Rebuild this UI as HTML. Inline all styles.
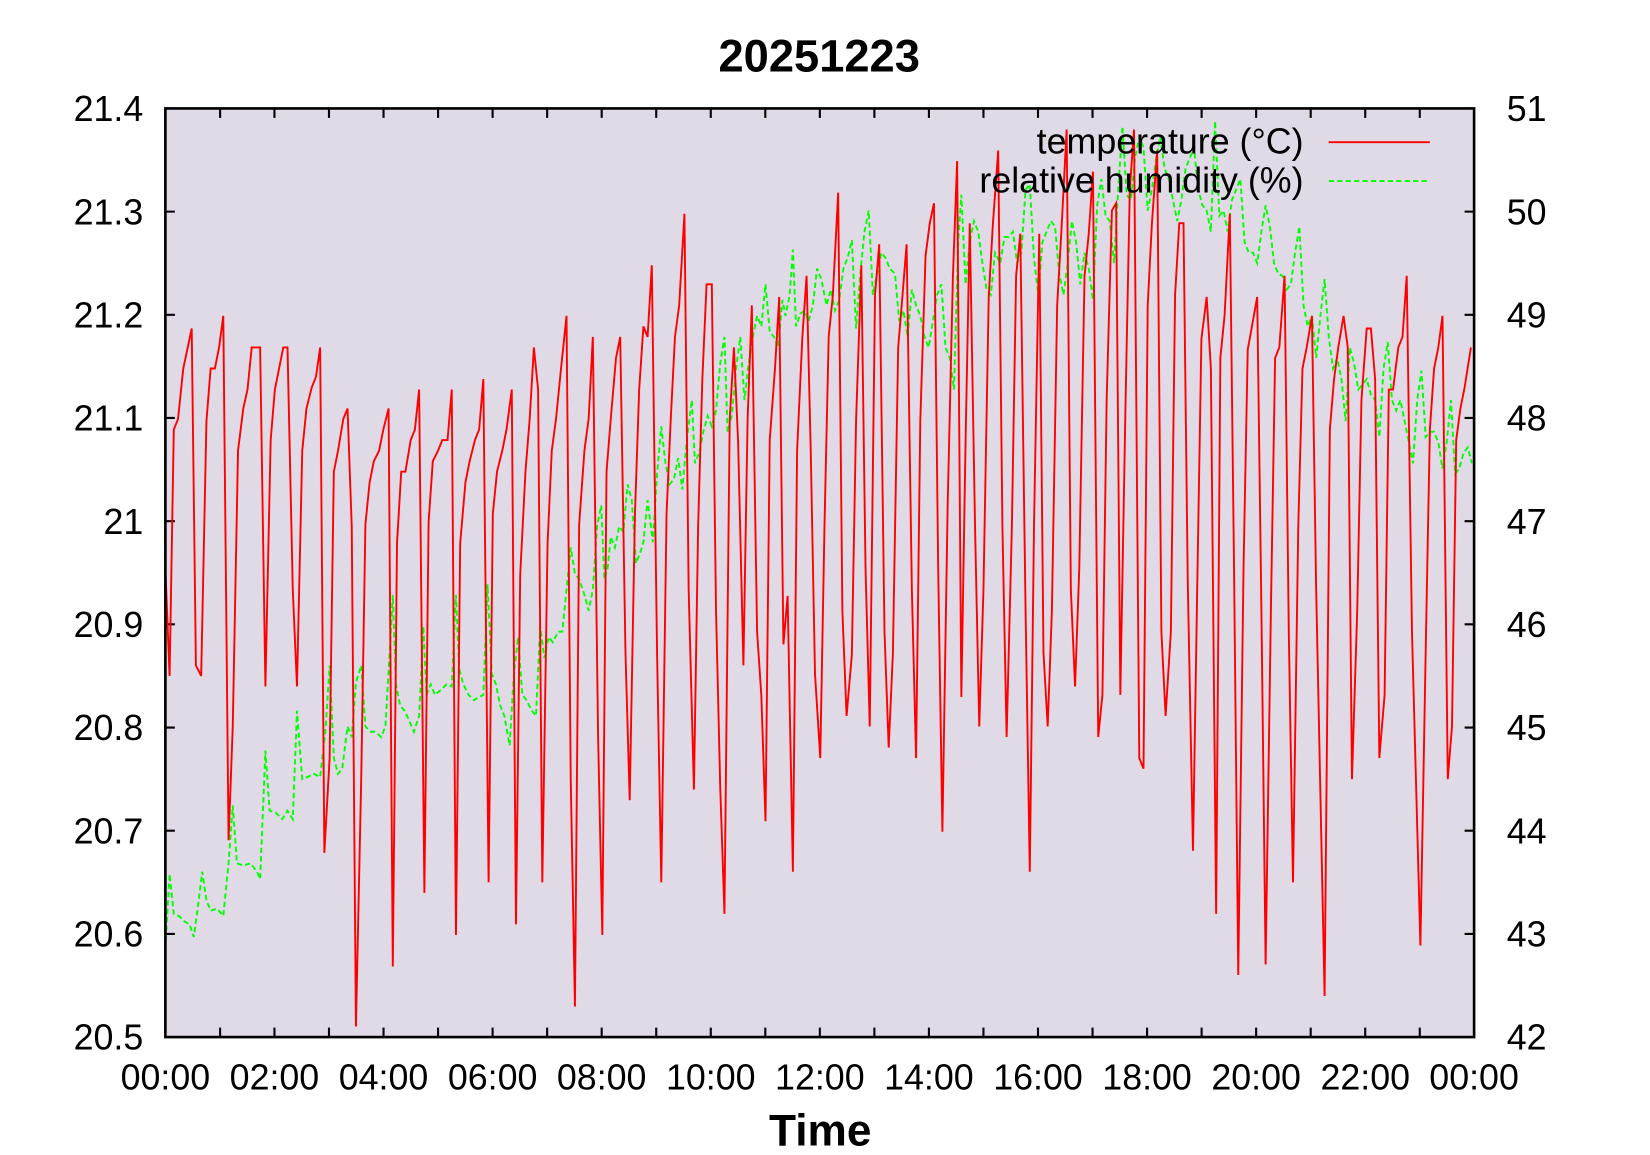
<!DOCTYPE html>
<html><head><meta charset="utf-8"><style>html,body{margin:0;padding:0;background:#fff}svg{display:block}</style></head>
<body>
<svg width="1650" height="1155" viewBox="0 0 1567 1097" xmlns="http://www.w3.org/2000/svg" font-family="Liberation Sans, sans-serif">
<rect x="0" y="0" width="1567" height="1097" fill="#fff"/>
<rect x="157" y="103" width="1243" height="882" fill="#e0d9e6"/>
<g stroke="#000" stroke-width="2">
<path d="M157,103h9M157,201h9M157,299h9M157,397h9M157,495h9M157,593h9M157,691h9M157,789h9M157,887h9M1400,103h-9M1400,201h-9M1400,299h-9M1400,397h-9M1400,495h-9M1400,593h-9M1400,691h-9M1400,789h-9M1400,887h-9"/>
<path d="M209,985v-9M260.6,985v-9M312.4,985v-9M364.2,985v-9M416,985v-9M467.8,985v-9M519.6,985v-9M571.4,985v-9M623.2,985v-9M675,985v-9M726.8,985v-9M778.6,985v-9M830.4,985v-9M882.2,985v-9M934,985v-9M985.8,985v-9M1037.6,985v-9M1089.4,985v-9M1141.2,985v-9M1193,985v-9M1244.8,985v-9M1296.6,985v-9M1348.4,985v-9"/>
<path d="M209,103v9M260.6,103v9M312.4,103v9M364.2,103v9M416,103v9M467.8,103v9M519.6,103v9M571.4,103v9M623.2,103v9M675,103v9M726.8,103v9M778.6,103v9M830.4,103v9M882.2,103v9M934,103v9M985.8,103v9M1037.6,103v9M1089.4,103v9M1141.2,103v9M1193,103v9M1244.8,103v9M1296.6,103v9M1348.4,103v9"/>
</g>
<polyline fill="none" stroke="#00ff00" stroke-width="1.8" stroke-dasharray="5,3" points="157,900 161,830 165,868 170,870 175,875 180,878 184,890 188,860 192,828 196,855 200,865 206,863 212,870 217,820 221,765 225,820 231,822 238,820 244,828 247,835 252,713 256,770 262,772 268,778 273,770 278,778 282,675 287,740 292,738 298,735 304,738 309,695 313,632 317,720 321,735 325,730 330,690 334,700 338,648 343,632 347,690 352,695 356,695 362,700 366,690 370,620 373,565 376,650 380,670 384,675 388,683 393,695 398,680 402,595 405,660 409,650 413,660 419,655 424,650 429,652 433,565 436,635 440,650 445,660 450,665 455,662 459,660 463,555 467,640 471,650 475,670 479,680 484,708 488,640 492,605 496,660 500,665 505,675 509,680 513,595 517,625 521,605 525,610 530,600 534,600 538,560 542,520 546,545 550,550 555,565 559,580 563,560 567,500 571,480 574,550 577,540 580,510 584,520 588,500 592,505 596,460 600,475 604,535 608,525 611,515 615,475 620,515 624,450 628,405 632,440 636,460 640,455 644,435 648,465 652,420 657,380 660,440 664,430 668,410 672,395 676,405 680,390 684,345 688,320 691,410 695,395 699,350 703,320 707,380 711,345 715,320 719,300 723,310 727,270 731,315 735,320 739,330 743,285 746,300 750,280 753,237 756,310 760,298 764,295 768,305 772,290 776,255 780,265 785,290 789,275 793,295 797,285 801,255 805,245 809,228 813,312 817,260 821,220 825,200 829,280 833,260 837,240 841,245 845,255 850,260 854,305 858,295 862,320 866,275 870,290 874,300 878,320 882,330 886,305 890,280 894,270 898,330 902,340 906,370 910,230 913,185 917,270 921,230 925,210 929,220 933,250 937,275 941,280 945,240 950,250 954,225 958,225 962,220 966,250 970,240 974,180 978,175 982,245 986,280 990,230 994,220 998,210 1002,215 1006,260 1010,280 1014,250 1018,210 1022,230 1026,270 1030,240 1034,255 1038,285 1042,195 1046,170 1050,205 1054,210 1058,250 1062,180 1066,120 1070,185 1074,190 1078,150 1082,130 1086,140 1090,200 1094,180 1098,150 1102,130 1106,160 1110,170 1114,190 1118,210 1122,190 1126,160 1130,150 1134,140 1138,180 1142,195 1146,200 1150,220 1154,115 1158,205 1162,200 1166,220 1170,190 1174,180 1178,170 1182,230 1186,240 1190,240 1194,250 1198,220 1202,195 1206,215 1210,250 1214,260 1218,262 1222,275 1226,270 1230,240 1234,215 1238,290 1242,310 1246,300 1250,340 1254,300 1258,265 1262,320 1266,350 1270,340 1274,360 1278,400 1282,330 1286,345 1290,370 1294,365 1298,360 1302,375 1306,380 1310,415 1314,350 1318,325 1322,380 1326,390 1330,380 1334,400 1338,420 1342,440 1346,380 1350,352 1354,415 1358,410 1362,410 1366,420 1370,445 1374,420 1378,380 1382,450 1386,445 1390,430 1394,425 1398,440"/>
<polyline fill="none" stroke="#ff0000" stroke-width="1.8" points="157,540 161,642 165,408 169,398 174,350 182,312 186,632 191,642 196,400 200,350 204,350 208,330 212,300 217,798 221,690 226,428 231,388 235,370 239,330 247,330 252,652 257,418 261,370 269,330 273,330 278,560 282,652 287,428 291,388 296,368 300,358 304,330 308,810 313,720 317,448 321,428 326,398 330,388 334,500 338,975 343,740 347,498 351,458 355,438 360,428 364,408 369,388 373,918 377,516 381,448 385,448 390,418 394,408 398,370 403,848 407,496 411,438 416,428 420,418 425,418 429,370 433,888 437,516 442,458 446,438 451,418 455,408 459,360 464,838 468,488 472,448 477,428 481,408 486,370 490,878 494,546 499,448 503,398 507,330 511,370 515,838 520,516 524,428 528,398 533,348 538,300 542,740 546,956 550,498 555,428 559,398 563,320 568,700 572,888 576,448 580,398 585,340 589,320 594,620 598,760 603,488 607,370 611,310 615,320 619,252 624,620 628,838 633,488 637,398 641,320 645,290 650,203 654,560 659,750 663,500 667,360 671,270 676,270 680,580 684,748 688,868 693,398 697,330 701,420 706,632 710,398 714,290 719,600 723,660 727,780 731,418 736,350 740,282 744,612 748,566 753,828 757,428 762,320 766,262 770,430 774,640 779,720 783,500 787,320 791,280 796,183 800,580 804,680 809,622 813,400 818,252 822,540 826,690 831,280 835,232 840,600 844,710 848,620 853,330 857,282 861,232 866,560 870,720 874,400 879,243 883,212 887,193 891,540 895,790 900,480 905,262 909,153 913,662 917,420 921,212 926,500 930,690 934,560 939,282 943,212 948,143 952,500 956,700 961,500 965,262 969,222 974,580 978,828 982,500 987,222 991,620 995,690 999,580 1004,290 1008,220 1013,123 1017,560 1021,652 1025,540 1030,262 1034,222 1038,163 1043,700 1047,660 1051,380 1056,200 1060,193 1064,660 1069,380 1073,180 1077,123 1082,720 1086,730 1090,290 1094,212 1099,143 1103,600 1107,680 1112,600 1116,280 1120,212 1124,212 1128,550 1133,808 1137,560 1141,322 1146,282 1150,350 1155,868 1159,340 1163,300 1168,203 1172,540 1176,926 1181,540 1185,332 1189,310 1194,282 1198,580 1202,916 1207,580 1211,340 1215,330 1220,262 1224,600 1228,838 1233,500 1237,350 1241,330 1246,300 1250,560 1258,946 1263,408 1267,360 1271,330 1276,300 1280,330 1284,740 1289,580 1293,380 1298,312 1302,312 1306,360 1310,720 1315,660 1319,370 1323,370 1328,330 1332,320 1336,262 1341,600 1349,898 1354,620 1358,408 1362,350 1366,330 1370,300 1375,740 1379,690 1383,418 1387,388 1391,368 1397,330"/>
<rect x="157" y="103" width="1243" height="882" fill="none" stroke="#000" stroke-width="2.5"/>
<g font-size="34" fill="#000">
<text x="1238" y="146" text-anchor="end">temperature (°C)</text>
<text x="1238" y="183" text-anchor="end">relative humidity (%)</text>
</g>
<line x1="1262" y1="135" x2="1358" y2="135" stroke="#ff0000" stroke-width="1.8"/>
<line x1="1262" y1="172" x2="1358" y2="172" stroke="#00ff00" stroke-width="1.8" stroke-dasharray="5,3"/>
<g font-size="34" fill="#000" text-anchor="end">
<text x="136" y="115">21.4</text><text x="136" y="213">21.3</text><text x="136" y="311">21.2</text><text x="136" y="409">21.1</text><text x="136" y="507">21</text><text x="136" y="605">20.9</text><text x="136" y="703">20.8</text><text x="136" y="801">20.7</text><text x="136" y="899">20.6</text><text x="136" y="997">20.5</text>
</g>
<g font-size="34" fill="#000" text-anchor="start">
<text x="1431" y="115">51</text><text x="1431" y="213">50</text><text x="1431" y="311">49</text><text x="1431" y="409">48</text><text x="1431" y="507">47</text><text x="1431" y="605">46</text><text x="1431" y="703">45</text><text x="1431" y="801">44</text><text x="1431" y="899">43</text><text x="1431" y="997">42</text>
</g>
<g font-size="34" fill="#000" text-anchor="middle">
<text x="157" y="1035">00:00</text><text x="260.6" y="1035">02:00</text><text x="364.2" y="1035">04:00</text><text x="467.8" y="1035">06:00</text><text x="571.4" y="1035">08:00</text><text x="675" y="1035">10:00</text><text x="778.6" y="1035">12:00</text><text x="882.2" y="1035">14:00</text><text x="985.8" y="1035">16:00</text><text x="1089.4" y="1035">18:00</text><text x="1193" y="1035">20:00</text><text x="1296.6" y="1035">22:00</text><text x="1400" y="1035">00:00</text>
</g>
<text x="778" y="68" font-size="43" font-weight="bold" text-anchor="middle">20251223</text>
<text x="779" y="1088" font-size="42" font-weight="bold" text-anchor="middle">Time</text>
</svg>
</body></html>
